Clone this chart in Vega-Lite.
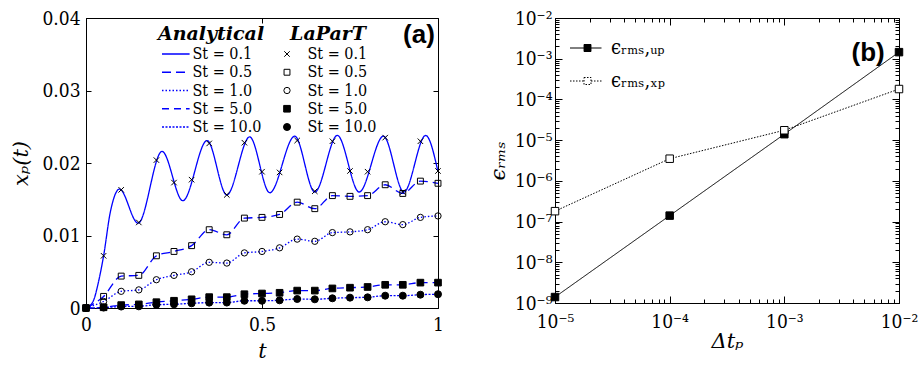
{
  "$schema": "https://vega.github.io/schema/vega-lite/v6.json",
  "background": "white",
  "padding": {"left": 10, "top": 8, "right": 5, "bottom": 2},
  "spacing": 42,
  "config": {
    "view": {"stroke": "black", "strokeWidth": 1},
    "axis": {"labelFont": "DejaVu Serif Condensed, DejaVu Serif", "labelFontSize": 19, "labelColor": "black", "titleFont": "DejaVu Serif", "titleFontSize": 21, "titleFontWeight": "normal", "titleColor": "black", "domainColor": "black", "tickColor": "black", "grid": false, "labelFlush": false, "labelOverlap": false},
    "legend": {"labelFont": "DejaVu Serif Condensed, DejaVu Serif", "labelFontSize": 16, "labelColor": "black", "titleFont": "DejaVu Serif", "titleFontSize": 19, "titleFontStyle": "italic", "titleFontWeight": "bold", "titleColor": "black", "padding": 0, "orient": "none", "direction": "vertical"}
  },
  "datasets": {
    "lines": [
      {"St": 0.1, "t": 0, "x": 0}, {"St": 0.1, "t": 0.02, "x": 0.0009}, {"St": 0.1, "t": 0.035, "x": 0.0035}, {"St": 0.1, "t": 0.05, "x": 0.0072}, {"St": 0.1, "t": 0.069, "x": 0.0132}, {"St": 0.1, "t": 0.095, "x": 0.0164}, {"St": 0.1, "t": 0.148, "x": 0.0117}, {"St": 0.1, "t": 0.216, "x": 0.0216}, {"St": 0.1, "t": 0.275, "x": 0.0148}, {"St": 0.1, "t": 0.344, "x": 0.0231}, {"St": 0.1, "t": 0.4, "x": 0.0156}, {"St": 0.1, "t": 0.465, "x": 0.0236}, {"St": 0.1, "t": 0.522, "x": 0.0159}, {"St": 0.1, "t": 0.593, "x": 0.0237}, {"St": 0.1, "t": 0.65, "x": 0.016}, {"St": 0.1, "t": 0.714, "x": 0.0238}, {"St": 0.1, "t": 0.776, "x": 0.016}, {"St": 0.1, "t": 0.845, "x": 0.0237}, {"St": 0.1, "t": 0.903, "x": 0.016}, {"St": 0.1, "t": 0.965, "x": 0.0238}, {"St": 0.1, "t": 1.0, "x": 0.0188},
      {"St": 0.5, "t": 0, "x": 0}, {"St": 0.5, "t": 0.05, "x": 0.0016}, {"St": 0.5, "t": 0.1, "x": 0.0044}, {"St": 0.5, "t": 0.15, "x": 0.0045}, {"St": 0.5, "t": 0.2, "x": 0.0072}, {"St": 0.5, "t": 0.25, "x": 0.0078}, {"St": 0.5, "t": 0.3, "x": 0.0086}, {"St": 0.5, "t": 0.35, "x": 0.0108}, {"St": 0.5, "t": 0.4, "x": 0.0101}, {"St": 0.5, "t": 0.45, "x": 0.0124}, {"St": 0.5, "t": 0.5, "x": 0.0125}, {"St": 0.5, "t": 0.55, "x": 0.0129}, {"St": 0.5, "t": 0.6, "x": 0.0146}, {"St": 0.5, "t": 0.65, "x": 0.0137}, {"St": 0.5, "t": 0.7, "x": 0.0155}, {"St": 0.5, "t": 0.75, "x": 0.0154}, {"St": 0.5, "t": 0.8, "x": 0.0155}, {"St": 0.5, "t": 0.85, "x": 0.017}, {"St": 0.5, "t": 0.9, "x": 0.0158}, {"St": 0.5, "t": 0.95, "x": 0.0175}, {"St": 0.5, "t": 1.0, "x": 0.0172},
      {"St": 1.0, "t": 0, "x": 0}, {"St": 1.0, "t": 0.05, "x": 0.0009}, {"St": 1.0, "t": 0.1, "x": 0.0023}, {"St": 1.0, "t": 0.15, "x": 0.0025}, {"St": 1.0, "t": 0.2, "x": 0.0039}, {"St": 1.0, "t": 0.25, "x": 0.0045}, {"St": 1.0, "t": 0.3, "x": 0.005}, {"St": 1.0, "t": 0.35, "x": 0.0063}, {"St": 1.0, "t": 0.4, "x": 0.0062}, {"St": 1.0, "t": 0.45, "x": 0.0076}, {"St": 1.0, "t": 0.5, "x": 0.0078}, {"St": 1.0, "t": 0.55, "x": 0.0083}, {"St": 1.0, "t": 0.6, "x": 0.0095}, {"St": 1.0, "t": 0.65, "x": 0.0092}, {"St": 1.0, "t": 0.7, "x": 0.0104}, {"St": 1.0, "t": 0.75, "x": 0.0105}, {"St": 1.0, "t": 0.8, "x": 0.0108}, {"St": 1.0, "t": 0.85, "x": 0.0119}, {"St": 1.0, "t": 0.9, "x": 0.0115}, {"St": 1.0, "t": 0.95, "x": 0.0125}, {"St": 1.0, "t": 1.0, "x": 0.0127},
      {"St": 5.0, "t": 0, "x": 0}, {"St": 5.0, "t": 0.05, "x": 0.0001}, {"St": 5.0, "t": 0.1, "x": 0.0004}, {"St": 5.0, "t": 0.15, "x": 0.0005}, {"St": 5.0, "t": 0.2, "x": 0.0008}, {"St": 5.0, "t": 0.25, "x": 0.001}, {"St": 5.0, "t": 0.3, "x": 0.0012}, {"St": 5.0, "t": 0.35, "x": 0.0015}, {"St": 5.0, "t": 0.4, "x": 0.0015}, {"St": 5.0, "t": 0.45, "x": 0.0019}, {"St": 5.0, "t": 0.5, "x": 0.002}, {"St": 5.0, "t": 0.55, "x": 0.0021}, {"St": 5.0, "t": 0.6, "x": 0.0024}, {"St": 5.0, "t": 0.65, "x": 0.0024}, {"St": 5.0, "t": 0.7, "x": 0.0027}, {"St": 5.0, "t": 0.75, "x": 0.0028}, {"St": 5.0, "t": 0.8, "x": 0.0029}, {"St": 5.0, "t": 0.85, "x": 0.0032}, {"St": 5.0, "t": 0.9, "x": 0.0032}, {"St": 5.0, "t": 0.95, "x": 0.0035}, {"St": 5.0, "t": 1.0, "x": 0.0035},
      {"St": 10.0, "t": 0, "x": 0}, {"St": 10.0, "t": 0.05, "x": 0.00006}, {"St": 10.0, "t": 0.1, "x": 0.0002}, {"St": 10.0, "t": 0.15, "x": 0.00023}, {"St": 10.0, "t": 0.2, "x": 0.00046}, {"St": 10.0, "t": 0.25, "x": 0.00051}, {"St": 10.0, "t": 0.3, "x": 0.00065}, {"St": 10.0, "t": 0.35, "x": 0.00074}, {"St": 10.0, "t": 0.4, "x": 0.00075}, {"St": 10.0, "t": 0.45, "x": 0.001}, {"St": 10.0, "t": 0.5, "x": 0.001}, {"St": 10.0, "t": 0.55, "x": 0.00106}, {"St": 10.0, "t": 0.6, "x": 0.00124}, {"St": 10.0, "t": 0.65, "x": 0.0012}, {"St": 10.0, "t": 0.7, "x": 0.00134}, {"St": 10.0, "t": 0.75, "x": 0.00143}, {"St": 10.0, "t": 0.8, "x": 0.00147}, {"St": 10.0, "t": 0.85, "x": 0.0017}, {"St": 10.0, "t": 0.9, "x": 0.0017}, {"St": 10.0, "t": 0.95, "x": 0.00184}, {"St": 10.0, "t": 1.0, "x": 0.0019}
    ],
    "pts": [
      {"St": 0.1, "t": 0, "x": 0}, {"St": 0.1, "t": 0.05, "x": 0.0072}, {"St": 0.1, "t": 0.1, "x": 0.0163}, {"St": 0.1, "t": 0.15, "x": 0.0118}, {"St": 0.1, "t": 0.2, "x": 0.0204}, {"St": 0.1, "t": 0.25, "x": 0.0173}, {"St": 0.1, "t": 0.3, "x": 0.0177}, {"St": 0.1, "t": 0.35, "x": 0.0227}, {"St": 0.1, "t": 0.4, "x": 0.0156}, {"St": 0.1, "t": 0.45, "x": 0.0228}, {"St": 0.1, "t": 0.5, "x": 0.0188}, {"St": 0.1, "t": 0.55, "x": 0.0187}, {"St": 0.1, "t": 0.6, "x": 0.0231}, {"St": 0.1, "t": 0.65, "x": 0.0161}, {"St": 0.1, "t": 0.7, "x": 0.023}, {"St": 0.1, "t": 0.75, "x": 0.0189}, {"St": 0.1, "t": 0.8, "x": 0.0188}, {"St": 0.1, "t": 0.85, "x": 0.0235}, {"St": 0.1, "t": 0.9, "x": 0.016}, {"St": 0.1, "t": 0.95, "x": 0.023}, {"St": 0.1, "t": 1.0, "x": 0.0189},
      {"St": 0.5, "t": 0, "x": 0}, {"St": 0.5, "t": 0.05, "x": 0.0016}, {"St": 0.5, "t": 0.1, "x": 0.0044}, {"St": 0.5, "t": 0.15, "x": 0.0045}, {"St": 0.5, "t": 0.2, "x": 0.0072}, {"St": 0.5, "t": 0.25, "x": 0.0078}, {"St": 0.5, "t": 0.3, "x": 0.0086}, {"St": 0.5, "t": 0.35, "x": 0.0108}, {"St": 0.5, "t": 0.4, "x": 0.0101}, {"St": 0.5, "t": 0.45, "x": 0.0124}, {"St": 0.5, "t": 0.5, "x": 0.0125}, {"St": 0.5, "t": 0.55, "x": 0.0129}, {"St": 0.5, "t": 0.6, "x": 0.0146}, {"St": 0.5, "t": 0.65, "x": 0.0137}, {"St": 0.5, "t": 0.7, "x": 0.0155}, {"St": 0.5, "t": 0.75, "x": 0.0154}, {"St": 0.5, "t": 0.8, "x": 0.0155}, {"St": 0.5, "t": 0.85, "x": 0.017}, {"St": 0.5, "t": 0.9, "x": 0.0158}, {"St": 0.5, "t": 0.95, "x": 0.0175}, {"St": 0.5, "t": 1.0, "x": 0.0172},
      {"St": 1.0, "t": 0, "x": 0}, {"St": 1.0, "t": 0.05, "x": 0.0009}, {"St": 1.0, "t": 0.1, "x": 0.0023}, {"St": 1.0, "t": 0.15, "x": 0.0025}, {"St": 1.0, "t": 0.2, "x": 0.0039}, {"St": 1.0, "t": 0.25, "x": 0.0045}, {"St": 1.0, "t": 0.3, "x": 0.005}, {"St": 1.0, "t": 0.35, "x": 0.0063}, {"St": 1.0, "t": 0.4, "x": 0.0062}, {"St": 1.0, "t": 0.45, "x": 0.0076}, {"St": 1.0, "t": 0.5, "x": 0.0078}, {"St": 1.0, "t": 0.55, "x": 0.0083}, {"St": 1.0, "t": 0.6, "x": 0.0095}, {"St": 1.0, "t": 0.65, "x": 0.0092}, {"St": 1.0, "t": 0.7, "x": 0.0104}, {"St": 1.0, "t": 0.75, "x": 0.0105}, {"St": 1.0, "t": 0.8, "x": 0.0108}, {"St": 1.0, "t": 0.85, "x": 0.0119}, {"St": 1.0, "t": 0.9, "x": 0.0115}, {"St": 1.0, "t": 0.95, "x": 0.0125}, {"St": 1.0, "t": 1.0, "x": 0.0127},
      {"St": 5.0, "t": 0, "x": 0}, {"St": 5.0, "t": 0.05, "x": 0.0001}, {"St": 5.0, "t": 0.1, "x": 0.0004}, {"St": 5.0, "t": 0.15, "x": 0.0005}, {"St": 5.0, "t": 0.2, "x": 0.0008}, {"St": 5.0, "t": 0.25, "x": 0.001}, {"St": 5.0, "t": 0.3, "x": 0.0012}, {"St": 5.0, "t": 0.35, "x": 0.0015}, {"St": 5.0, "t": 0.4, "x": 0.0015}, {"St": 5.0, "t": 0.45, "x": 0.0019}, {"St": 5.0, "t": 0.5, "x": 0.002}, {"St": 5.0, "t": 0.55, "x": 0.0021}, {"St": 5.0, "t": 0.6, "x": 0.0024}, {"St": 5.0, "t": 0.65, "x": 0.0024}, {"St": 5.0, "t": 0.7, "x": 0.0027}, {"St": 5.0, "t": 0.75, "x": 0.0028}, {"St": 5.0, "t": 0.8, "x": 0.0029}, {"St": 5.0, "t": 0.85, "x": 0.0032}, {"St": 5.0, "t": 0.9, "x": 0.0032}, {"St": 5.0, "t": 0.95, "x": 0.0035}, {"St": 5.0, "t": 1.0, "x": 0.0035},
      {"St": 10.0, "t": 0, "x": 0}, {"St": 10.0, "t": 0.05, "x": 0.00006}, {"St": 10.0, "t": 0.1, "x": 0.0002}, {"St": 10.0, "t": 0.15, "x": 0.00023}, {"St": 10.0, "t": 0.2, "x": 0.00046}, {"St": 10.0, "t": 0.25, "x": 0.00051}, {"St": 10.0, "t": 0.3, "x": 0.00065}, {"St": 10.0, "t": 0.35, "x": 0.00074}, {"St": 10.0, "t": 0.4, "x": 0.00075}, {"St": 10.0, "t": 0.45, "x": 0.001}, {"St": 10.0, "t": 0.5, "x": 0.001}, {"St": 10.0, "t": 0.55, "x": 0.00106}, {"St": 10.0, "t": 0.6, "x": 0.00124}, {"St": 10.0, "t": 0.65, "x": 0.0012}, {"St": 10.0, "t": 0.7, "x": 0.00134}, {"St": 10.0, "t": 0.75, "x": 0.00143}, {"St": 10.0, "t": 0.8, "x": 0.00147}, {"St": 10.0, "t": 0.85, "x": 0.0017}, {"St": 10.0, "t": 0.9, "x": 0.0017}, {"St": 10.0, "t": 0.95, "x": 0.00184}, {"St": 10.0, "t": 1.0, "x": 0.0019}
    ],
    "err": [
      {"series": "ϵᵣₘₛ,ᵤₚ", "dt": 0.00001, "err": 1.4e-9},
      {"series": "ϵᵣₘₛ,ᵤₚ", "dt": 0.0001, "err": 1.4e-7},
      {"series": "ϵᵣₘₛ,ᵤₚ", "dt": 0.001, "err": 1.4e-5},
      {"series": "ϵᵣₘₛ,ᵤₚ", "dt": 0.01, "err": 1.45e-3},
      {"series": "ϵᵣₘₛ,ₓₚ", "dt": 0.00001, "err": 1.8e-7},
      {"series": "ϵᵣₘₛ,ₓₚ", "dt": 0.0001, "err": 3.5e-6},
      {"series": "ϵᵣₘₛ,ₓₚ", "dt": 0.001, "err": 1.75e-5},
      {"series": "ϵᵣₘₛ,ₓₚ", "dt": 0.01, "err": 1.8e-4}
    ],
    "labels": [{"label": "(a)"}, {"label": "(b)"}]
  },
  "hconcat": [
    {
      "width": 352,
      "height": 290,
      "layer": [
        {
          "data": {"name": "lines"},
          "mark": {"type": "line", "color": "blue", "interpolate": "monotone"},
          "encoding": {
            "x": {"field": "t", "type": "quantitative", "scale": {"domain": [0, 1], "nice": false}, "axis": {"values": [0, 0.5, 1], "format": "~g", "title": "t", "titleFontStyle": "italic", "tickSize": -5, "labelPadding": 12, "titlePadding": 6}},
            "y": {"field": "x", "type": "quantitative", "scale": {"domain": [0, 0.04], "nice": false}, "axis": {"values": [0, 0.01, 0.02, 0.03, 0.04], "format": "~g", "title": "xₚ(t)", "titleFontStyle": "italic", "tickSize": -5, "labelPadding": 11, "titlePadding": 10}},
            "strokeDash": {"field": "St", "type": "ordinal", "scale": {"range": [[1, 0], [9, 5], [1.5, 2], [7, 5], [2, 1.5]]}, "legend": {"title": "Analytical", "titleAnchor": "middle", "legendX": 72, "legendY": 7, "symbolType": "M-1,0H3.6", "symbolSize": 144, "symbolStrokeColor": "blue", "symbolFillColor": "transparent", "labelOffset": 16.5, "rowPadding": 2.25, "titlePadding": 2, "labelExpr": "'St = ' + format(datum.value, '.1f')"}},
            "strokeWidth": {"field": "St", "type": "ordinal", "scale": {"range": [1.3, 1.3, 1, 2.6, 2.6]}, "legend": {"title": "Analytical", "titleAnchor": "middle", "legendX": 72, "legendY": 7, "symbolType": "M-1,0H3.6", "symbolSize": 144, "symbolStrokeColor": "blue", "symbolFillColor": "transparent", "labelOffset": 16.5, "rowPadding": 2.25, "titlePadding": 2, "labelExpr": "'St = ' + format(datum.value, '.1f')"}}
          }
        },
        {
          "data": {"name": "pts"},
          "mark": {"type": "point", "strokeWidth": 1, "opacity": 1},
          "encoding": {
            "x": {"field": "t", "type": "quantitative", "axis": {"orient": "top", "values": [0, 0.5, 1], "labels": false, "title": null, "tickSize": -5, "domain": false}},
            "y": {"field": "x", "type": "quantitative", "axis": {"orient": "right", "values": [0, 0.01, 0.02, 0.03, 0.04], "labels": false, "title": null, "tickSize": -5, "domain": false}},
            "stroke": {"field": "St", "type": "ordinal", "scale": {"range": ["black", "black", "black", "black", "black"]}, "legend": {"title": "LaParT", "titleAnchor": "middle", "legendX": 193, "legendY": 7, "symbolStrokeWidth": 1, "labelOffset": 12.5, "rowPadding": 2.25, "titlePadding": 2, "labelExpr": "'St = ' + format(datum.value, '.1f')"}},
            "shape": {"field": "St", "type": "ordinal", "scale": {"range": ["M-1,-1L1,1M-1,1L1,-1", "square", "circle", "square", "circle"]}, "legend": {"title": "LaParT", "titleAnchor": "middle", "legendX": 193, "legendY": 7, "symbolStrokeWidth": 1, "labelOffset": 12.5, "rowPadding": 2.25, "titlePadding": 2, "labelExpr": "'St = ' + format(datum.value, '.1f')"}},
            "fill": {"field": "St", "type": "ordinal", "scale": {"range": ["transparent", "transparent", "transparent", "black", "black"]}, "legend": {"title": "LaParT", "titleAnchor": "middle", "legendX": 193, "legendY": 7, "symbolStrokeWidth": 1, "labelOffset": 12.5, "rowPadding": 2.25, "titlePadding": 2, "labelExpr": "'St = ' + format(datum.value, '.1f')"}},
            "size": {"field": "St", "type": "ordinal", "scale": {"range": [30, 49, 81, 56, 90]}, "legend": {"title": "LaParT", "titleAnchor": "middle", "legendX": 193, "legendY": 7, "symbolStrokeWidth": 1, "labelOffset": 12.5, "rowPadding": 2.25, "titlePadding": 2, "labelExpr": "'St = ' + format(datum.value, '.1f')"}}
          }
        },
        {
          "data": {"name": "labels"},
          "transform": [{"filter": "datum.label == '(a)'"}],
          "mark": {"type": "text", "font": "Liberation Sans, Arial, sans-serif", "fontWeight": "bold", "fontSize": 26, "align": "right", "baseline": "middle", "color": "black"},
          "encoding": {
            "text": {"field": "label"},
            "x": {"datum": 0.991, "type": "quantitative", "axis": null},
            "y": {"datum": 0.0377, "type": "quantitative", "axis": null}
          }
        }
      ],
      "resolve": {"axis": {"x": "independent", "y": "independent"}}
    },
    {
      "width": 344,
      "height": 285,
      "layer": [
        {
          "data": {"name": "err"},
          "mark": {"type": "line", "color": "black", "strokeWidth": 1},
          "encoding": {
            "x": {"field": "dt", "type": "quantitative", "scale": {"type": "log", "domain": [0.00001, 0.01], "nice": false}, "axis": {"values": [0.00001, 0.00002, 0.00003, 0.00004, 0.00005, 0.00006, 0.00007, 0.00008, 0.00009, 0.0001, 0.0002, 0.0003, 0.0004, 0.0005, 0.0006, 0.0007, 0.0008, 0.0009, 0.001, 0.002, 0.003, 0.004, 0.005, 0.006, 0.007, 0.008, 0.009, 0.01], "labelExpr": "datum.value == 0.00001 ? '10⁻⁵' : datum.value == 0.0001 ? '10⁻⁴' : datum.value == 0.001 ? '10⁻³' : datum.value == 0.01 ? '10⁻²' : ''", "title": "Δtₚ", "titleFontStyle": "italic", "tickSize": {"condition": {"test": "abs(log(datum.value)/LN10 - round(log(datum.value)/LN10)) < 0.01", "value": -7}, "value": -4}, "labelPadding": 16, "titlePadding": -4}},
            "y": {"field": "err", "type": "quantitative", "scale": {"type": "log", "domain": [1e-9, 0.01], "nice": false}, "axis": {"values": [1e-9, 2e-9, 3e-9, 4e-9, 5e-9, 6e-9, 7e-9, 8e-9, 9e-9, 1e-8, 2e-8, 3e-8, 4e-8, 5e-8, 6e-8, 7e-8, 8e-8, 9e-8, 1e-7, 2e-7, 3e-7, 4e-7, 5e-7, 6e-7, 7e-7, 8e-7, 9e-7, 1e-6, 2e-6, 3e-6, 4e-6, 5e-6, 6e-6, 7e-6, 8e-6, 9e-6, 1e-5, 2e-5, 3e-5, 4e-5, 5e-5, 6e-5, 7e-5, 8e-5, 9e-5, 1e-4, 2e-4, 3e-4, 4e-4, 5e-4, 6e-4, 7e-4, 8e-4, 9e-4, 1e-3, 2e-3, 3e-3, 4e-3, 5e-3, 6e-3, 7e-3, 8e-3, 9e-3, 1e-2], "labelExpr": "datum.value == 1e-9 ? '10⁻⁹' : datum.value == 1e-8 ? '10⁻⁸' : datum.value == 1e-7 ? '10⁻⁷' : datum.value == 1e-6 ? '10⁻⁶' : datum.value == 1e-5 ? '10⁻⁵' : datum.value == 1e-4 ? '10⁻⁴' : datum.value == 1e-3 ? '10⁻³' : datum.value == 1e-2 ? '10⁻²' : ''", "title": "ϵᵣₘₛ", "titleFontStyle": "italic", "tickSize": {"condition": {"test": "abs(log(datum.value)/LN10 - round(log(datum.value)/LN10)) < 0.01", "value": -7}, "value": -4}, "labelPadding": 10, "titlePadding": 6}},
            "strokeDash": {"field": "series", "type": "nominal", "scale": {"domain": ["ϵᵣₘₛ,ᵤₚ", "ϵᵣₘₛ,ₓₚ"], "range": [[1, 0], [1.5, 1.5]]}, "legend": {"title": null, "legendX": 22.5, "legendY": 20, "symbolType": "M-5,0H-1M1,0H4M-1,-1H1V1H-1Z", "symbolSize": 49, "symbolStrokeColor": "black", "symbolStrokeWidth": 1, "labelOffset": 13.5, "labelFontSize": 20, "rowPadding": 13}}
          }
        },
        {
          "data": {"name": "err"},
          "mark": {"type": "point", "shape": "square", "size": 56, "stroke": "black", "strokeWidth": 1, "opacity": 1},
          "encoding": {
            "x": {"field": "dt", "type": "quantitative", "axis": {"orient": "top", "values": [0.00001, 0.00002, 0.00003, 0.00004, 0.00005, 0.00006, 0.00007, 0.00008, 0.00009, 0.0001, 0.0002, 0.0003, 0.0004, 0.0005, 0.0006, 0.0007, 0.0008, 0.0009, 0.001, 0.002, 0.003, 0.004, 0.005, 0.006, 0.007, 0.008, 0.009, 0.01], "labels": false, "title": null, "domain": false, "tickSize": {"condition": {"test": "abs(log(datum.value)/LN10 - round(log(datum.value)/LN10)) < 0.01", "value": -7}, "value": -4}}},
            "y": {"field": "err", "type": "quantitative", "axis": {"orient": "right", "values": [1e-9, 2e-9, 3e-9, 4e-9, 5e-9, 6e-9, 7e-9, 8e-9, 9e-9, 1e-8, 2e-8, 3e-8, 4e-8, 5e-8, 6e-8, 7e-8, 8e-8, 9e-8, 1e-7, 2e-7, 3e-7, 4e-7, 5e-7, 6e-7, 7e-7, 8e-7, 9e-7, 1e-6, 2e-6, 3e-6, 4e-6, 5e-6, 6e-6, 7e-6, 8e-6, 9e-6, 1e-5, 2e-5, 3e-5, 4e-5, 5e-5, 6e-5, 7e-5, 8e-5, 9e-5, 1e-4, 2e-4, 3e-4, 4e-4, 5e-4, 6e-4, 7e-4, 8e-4, 9e-4, 1e-3, 2e-3, 3e-3, 4e-3, 5e-3, 6e-3, 7e-3, 8e-3, 9e-3, 1e-2], "labels": false, "title": null, "domain": false, "tickSize": {"condition": {"test": "abs(log(datum.value)/LN10 - round(log(datum.value)/LN10)) < 0.01", "value": -7}, "value": -4}}},
            "fill": {"field": "series", "type": "nominal", "scale": {"domain": ["ϵᵣₘₛ,ᵤₚ", "ϵᵣₘₛ,ₓₚ"], "range": ["black", "white"]}, "legend": {"title": null, "legendX": 22.5, "legendY": 20, "symbolType": "M-5,0H-1M1,0H4M-1,-1H1V1H-1Z", "symbolSize": 49, "symbolStrokeColor": "black", "symbolStrokeWidth": 1, "labelOffset": 13.5, "labelFontSize": 20, "rowPadding": 13}}
          }
        },
        {
          "data": {"name": "labels"},
          "transform": [{"filter": "datum.label == '(b)'"}],
          "mark": {"type": "text", "font": "Liberation Sans, Arial, sans-serif", "fontWeight": "bold", "fontSize": 26, "align": "right", "baseline": "middle", "color": "black"},
          "encoding": {
            "text": {"field": "label"},
            "x": {"datum": 0.0075, "type": "quantitative", "axis": null},
            "y": {"datum": 0.0014, "type": "quantitative", "axis": null}
          }
        }
      ],
      "resolve": {"axis": {"x": "independent", "y": "independent"}}
    }
  ],
  "resolve": {
    "scale": {"strokeDash": "independent", "strokeWidth": "independent", "fill": "independent", "shape": "independent", "size": "independent", "stroke": "independent"},
    "legend": {"strokeDash": "independent", "strokeWidth": "independent", "fill": "independent", "shape": "independent", "size": "independent", "stroke": "independent"}
  }
}
